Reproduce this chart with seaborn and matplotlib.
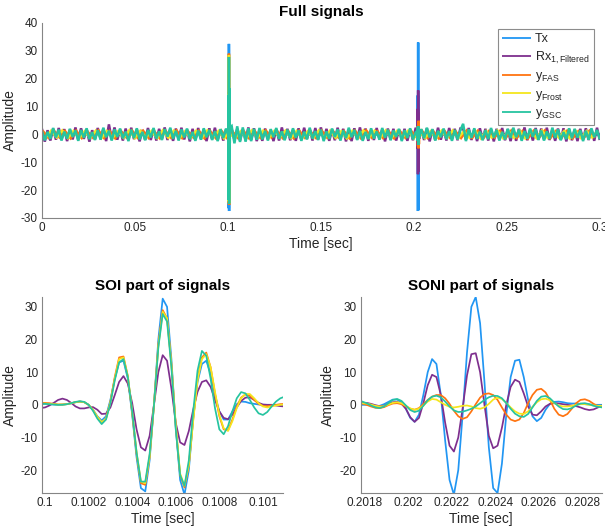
import numpy as np
import pandas as pd
import matplotlib
matplotlib.use("Agg")
import matplotlib.pyplot as plt
import seaborn as sns

# ---------------- data ----------------
series_names = ["Tx", "Rx", "FAS", "Frost", "GSC"]
legend_labels = ["Tx", r"Rx$_{\mathregular{1,Filtered}}$", r"y$_{\mathregular{FAS}}$",
                 r"y$_{\mathregular{Frost}}$", r"y$_{\mathregular{GSC}}$"]
colors = ["#2196F3", "#7E2F8E", "#FF7410", "#F4E61E", "#26C4A0"]

# SOI window samples (20 us step starting at 0.09998 s)
soi_t0, soi_dt, soi_n = 0.09998, 0.00002, 57
soi_tx = [0.3, 0.3, 0.2, 0.1, 0.0, 0.1, 0.2, 0.5, 0.8, 1.0, 0.8, 0.0, -1.5, -3.5, -4.8, -3.5, 1.5, 8.0, 13.0, 13.5,
          8.0, -3.0, -16.0, -25.5, -26.5, -17.0, 0.0, 20.0, 32.5, 30.0, 14.0, -7.0, -23.0, -27.5, -20.0, -4.0, 7.0, 12.5,
          13.5, 9.5, 3.0, -2.0, -4.5, -4.5, -2.0, 0.2, 1.0, 0.9, 0.5, 0.3, 0.1, 0.0, 0.0, 0.0, 0.0, 0.0, 0.0]
soi_rx = [-1.0, -0.8, -0.2, 0.6, 1.5, 1.9, 1.5, 0.6, -0.5, -1.1, -1.1, -0.8, -0.7, -1.5, -2.8, -2.7, -0.8, 3.0, 7.0,
          8.8, 6.5, 0.5, -7.5, -13.0, -14.0, -9.5, 0.0, 10.0, 15.2, 13.5, 5.0, -5.5, -11.5, -12.3, -8.0, -1.5, 4.0, 7.0,
          7.5, 5.5, 1.5, -2.0, -4.0, -4.4, -3.0, -0.8, 1.2, 2.2, 2.3, 1.5, 0.6, 0.1, 0.0, 0.0, -0.2, -0.4, -0.5]
soi_fas = [0.6, 0.6, 0.5, 0.3, 0.1, 0.1, 0.2, 0.5, 0.8, 1.0, 0.8, 0.0, -1.6, -3.8, -5.5, -4.2, 1.0, 8.5, 14.5, 14.8,
           8.8, -2.5, -15.0, -24.0, -24.5, -16.0, 0.0, 18.5, 29.0, 26.5, 12.5, -6.5, -21.5, -25.3, -18.5, -4.5, 8.0,
           14.5, 16.0, 11.5, 3.5, -3.5, -7.5, -7.8, -4.5, -0.5, 2.2, 3.2, 2.8, 1.5, 0.3, -0.3, -0.4, -0.2, 0.0, 0.2, 0.3]
soi_frost = [0.4, 0.4, 0.3, 0.2, 0.1, 0.1, 0.2, 0.5, 0.8, 1.0, 0.8, 0.0, -1.5, -3.6, -5.3, -4.2, 0.8, 8.0, 14.0, 14.5,
             8.8, -2.0, -14.5, -23.5, -24.0, -16.0, 0.0, 18.0, 28.5, 26.5, 12.5, -6.0, -21.0, -24.8, -18.5, -5.0, 7.5,
             14.0, 15.5, 11.5, 4.0, -3.0, -7.2, -8.0, -5.0, -1.0, 2.0, 3.3, 3.3, 2.0, 0.5, -0.5, -0.8, -0.5, -0.2, 0.0,
             0.1]
soi_gsc = [0.3, 0.3, 0.2, 0.1, 0.0, 0.0, 0.2, 0.5, 0.9, 1.1, 0.9, 0.0, -1.8, -4.2, -5.9, -4.5, 0.5, 7.5, 13.0, 14.0,
           8.5, -2.0, -14.5, -23.5, -23.5, -15.0, 0.0, 17.5, 27.8, 25.5, 11.5, -7.5, -21.5, -24.8, -17.0, -2.0, 10.5,
           16.5, 15.0, 8.0, -1.0, -7.5, -9.0, -6.5, -2.0, 2.0, 3.9, 3.5, 1.5, -0.8, -2.6, -3.1, -2.2, -0.5, 1.0, 2.0, 2.5]

# SONI window samples (20 us step starting at 0.20177 s)
soni_t0, soni_dt, soni_n = 0.20177, 0.00002, 57
soni_tx = [0.0, 0.0, 0.0, -0.2, -0.4, -0.3, 0.2, 0.9, 1.6, 1.6, 0.8, -1.2, -4.0, -5.2, -3.0, 3.0, 10.0, 14.0, 12.5,
           3.0, -11.0, -23.0, -27.5, -20.0, -3.0, 16.0, 30.0, 33.0, 25.0, 7.0, -13.0, -25.5, -27.0, -18.0, -3.0, 8.5,
           13.5, 13.8, 8.5, 1.5, -3.5, -5.0, -4.0, -1.5, 0.3, 0.9, 1.0, 0.8, 0.5, 0.4, 0.4, 0.3, 0.2, 0.1, 0.0, 0.0, 0.0]
soni_rx = [0.5, 0.6, 0.6, 0.3, -0.1, -0.4, -0.3, 0.3, 0.8, 0.9, 0.3, -1.2, -3.8, -5.2, -4.0, 0.5, 6.0, 9.2, 8.5, 3.0,
           -5.5, -12.5, -14.3, -10.0, -1.0, 9.0, 15.5, 15.8, 10.0, 0.0, -9.5, -13.3, -12.5, -7.0, 0.0, 5.5, 7.7, 7.0,
           3.5, -0.5, -3.0, -3.2, -2.0, -0.5, 0.3, 0.5, 0.4, 0.2, 0.0, -0.2, -0.4, -0.8, -1.3, -1.6, -1.4, -0.8, -0.2]
soni_fas = [0.6, 0.4, 0.0, -0.5, -0.9, -1.0, -0.7, -0.1, 0.4, 0.5, 0.2, -0.5, -1.2, -1.5, -1.0, 0.2, 1.5, 2.5, 3.0,
            3.0, 2.0, 0.3, -1.8, -3.5, -4.3, -3.8, -2.0, 0.2, 2.2, 3.3, 3.5, 3.0, 1.5, -0.8, -3.0, -4.5, -5.0, -4.5,
            -2.5, 0.5, 3.0, 4.6, 4.9, 3.8, 1.5, -1.2, -3.0, -3.5, -2.8, -1.2, 0.5, 1.5, 1.7, 1.2, 0.3, -0.4, -0.7]
soni_frost = [0.4, 0.5, 0.4, 0.1, -0.3, -0.5, -0.4, 0.1, 0.6, 0.8, 0.5, -0.3, -1.1, -1.5, -1.2, -0.2, 1.0, 1.8, 1.6,
              0.8, 0.0, -0.6, -0.8, -0.6, -0.3, -0.2, -0.5, -1.0, -1.2, -0.8, 0.3, 1.6, 2.2, 1.8, 0.6, -0.8, -2.0,
              -2.7, -2.8, -2.0, -0.6, 0.8, 1.7, 1.9, 1.4, 0.5, -0.2, -0.5, -0.5, -0.3, 0.0, 0.2, 0.2, 0.0, -0.2, -0.3,
              -0.3]
soni_gsc = [1.2, 1.0, 0.5, -0.2, -0.8, -1.0, -0.5, 0.5, 1.5, 1.8, 1.2, -0.2, -1.6, -2.2, -1.8, -0.3, 1.4, 2.5, 2.8,
            2.3, 1.0, -0.5, -1.7, -2.2, -2.1, -1.7, -1.2, -0.5, 0.5, 1.5, 2.3, 2.8, 2.7, 2.0, 0.5, -1.2, -2.7, -3.5,
            -3.7, -2.8, -0.8, 1.2, 2.5, 2.7, 2.0, 0.7, -0.5, -1.3, -1.4, -1.0, -0.2, 0.4, 0.5, 0.2, -0.3, -0.6, -0.8]

# background noise outside the two bursts (full-signal view)
tx_noise_t = [0.0, 0.3]
tx_noise = [0.0, 0.0]
gsc_noise_dt = 0.0015
gsc_noise = [1.2, -2.1, 0.9, -1.6, 2.3, -1.1, 1.7, -2.2, 1.0, -1.5,
             2.0, -0.9, 1.4, -2.3, 1.6, -1.2, 2.2, -1.7, 0.8, -2.0,
             1.5, -1.9, 2.4, -1.0, 1.3, -2.2, 1.8, -0.9, 2.1, -1.4,
             1.0, -2.4, 1.7, -1.3, 2.2, -1.8, 0.9, -2.1, 1.6, -1.1,
             2.3, -1.5, 1.1, -2.0, 1.9, -0.8, 2.4, -1.6, 1.3, -2.2,
             1.8, -1.1, 2.1, -1.7, 0.9, -2.3, 1.4, -1.9, 2.2, -1.0,
             1.6, -2.0, 1.2, -2.4, 1.9, -1.3, 2.1, -1.6, 3.0, -3.2,
             2.9, -2.7, 2.5, -2.6, 2.2, -2.4, 2.0, -1.9, 2.3, -1.8,
             1.3, -2.2, 1.9, -1.0, 2.3, -1.6, 1.1, -2.1, 1.7, -1.4,
             2.2, -1.2, 1.5, -2.3, 1.0, -1.8, 2.4, -1.5, 1.2, -2.0,
             1.7, -2.4, 1.1, -1.6, 2.1, -0.9, 1.8, -2.2, 1.4, -1.3,
             2.4, -1.0, 1.6, -2.0, 1.3, -2.3, 0.9, -1.7, 2.2, -1.5,
             1.1, -1.9, 2.3, -1.2, 1.7, -2.1, 1.4, -0.9, 2.0, -2.4,
             1.5, -1.3, 2.2, -1.8, 0.8, -2.0, 1.9, -1.4, 2.4, -1.1,
             1.9, -2.2, 1.3, -1.0, 2.1, -1.7, 1.2, -2.3, 1.6, -1.8,
             1.4, 3.8, -2.4, 1.8, -1.2, 2.2, -1.6, 1.0, -2.1, 1.5,
             -1.7, 2.3, -1.1, 1.6, -2.2, 0.9, -1.8, 2.0, -1.3, 2.4,
             -1.0, 1.7, -2.3, 1.2, -1.5, 2.1, -0.9, 1.9, -2.0, 1.4,
             -2.2, 1.1, -1.6, 2.4, -1.3, 1.8, -2.1, 0.8, -1.7, 2.2,
             -1.4, 2.0, -1.2, 1.5, -2.4, 1.3, -1.9, 2.2, -1.0, 1.6, -1.8]
rx_noise_t0, rx_noise_dt = 0.0, 0.0015
rx_noise = [2.0, -2.6, 1.5, -2.2, 2.0, -1.9, 2.3, -1.8, 1.9, -2.4,
            1.7, -1.8, 2.5, -2.0, 2.2, -1.6, 1.8, -2.6, 1.5, -1.7,
            2.3, -1.5, 2.0, -2.4, 3.6, -1.8, 2.5, -1.9, 1.6, -2.2,
            2.1, -1.9, 2.4, -1.7, 1.8, -2.5, 1.6, -1.9, 2.3, -2.0,
            1.8, -2.2, 2.0, -1.6, 2.5, -2.0, 1.9, -2.3, 2.1, -1.7,
            2.4, -1.8, 1.7, -2.5, 2.0, -1.9, 2.3, -1.6, 1.8, -2.4,
            2.2, -1.7, 2.4, -2.0, 1.6, -2.2, 1.8, -2.5, 2.0, -2.0,
            2.0, -2.2, 1.8, -2.0, 2.5, -1.9, 2.2, -2.4, 1.7, -2.3,
            2.1, -1.7, 1.6, -2.4, 1.9, -2.2, 2.5, -1.8, 2.0, -2.1,
            1.6, -2.3, 2.2, -1.9, 2.4, -1.6, 1.9, -2.2, 2.3, -1.8,
            2.5, -1.8, 2.0, -2.3, 1.7, -2.1, 2.4, -1.6, 2.0, -2.5,
            1.8, -2.4, 2.2, -1.7, 2.5, -1.9, 2.1, -2.3, 1.6, -2.0,
            2.3, -1.6, 1.8, -2.5, 2.1, -1.8, 2.0, -2.2, 1.7, -1.9,
            2.0, -2.3, 1.7, -2.1, 2.4, -1.8, 1.6, -2.0, 2.2, -2.5,
            1.7, -2.0, 2.4, -1.9, 1.8, -2.2, 2.3, -1.7, 2.0, -2.1,
            2.1, 2.0, -1.9, 2.3, -2.0, 1.8, -2.4, 2.2, -1.7, 2.0,
            -2.2, 1.8, -2.5, 2.0, -1.7, 2.3, -2.1, 1.9, -2.4, 1.7,
            -2.3, 2.0, -1.8, 2.5, -2.1, 1.6, -2.2, 2.3, -1.9, 2.1,
            -1.8, 2.4, -2.0, 1.7, -2.3, 2.1, -1.9, 2.2, -2.5, 1.8,
            -2.1, 1.7, -2.4, 2.0, -1.8, 2.2, -2.0, 1.6, -2.3, 2.4, -2.0]
fas_noise_t0, fas_noise_dt = 0.0004, 0.003
fas_noise = [1.3, -1.2, 1.4, -1.1, 1.2, -1.4, 1.3, -1.3, 1.1, -1.2,
             1.4, -1.3, 1.2, -1.4, 1.3, -1.1, 1.4, -1.2, 1.3, -1.3,
             1.1, -1.4, 1.3, -1.2, 1.4, -1.3, 1.2, -1.1, 1.3, -1.4,
             1.2, -1.3, 1.4, -1.2, 1.1, -1.3, 1.3, -1.4, 1.2, -1.2,
             1.4, -1.1, 1.3, -1.3, 1.2, -1.4, 1.3, -1.2, 1.1, -1.3,
             1.4, -1.2, 1.3, -1.1, 1.2, -1.4, 1.3, -1.3, 1.4, -1.2,
             1.1, -1.3, 1.2, -1.4, 1.3, -1.2, 1.4, -1.1, 1.3, -1.3,
             1.2, -1.4, 1.3, -1.2, 1.1, -1.3, 1.4, -1.2, 1.3, -1.4,
             1.2, -1.1, 1.3, -1.3, 1.4, -1.2, 1.2, -1.4, 1.3, -1.1,
             1.4, -1.3, 1.2, -1.2, 1.3, -1.4, 1.1, -1.3, 1.3, -1.2]
frost_noise_t0, frost_noise_dt = 0.0019, 0.003
frost_noise = [-1.2, 1.3, -1.1, 1.4, -1.3, 1.2, -1.4, 1.1, -1.2, 1.3,
               -1.4, 1.2, -1.3, 1.1, -1.2, 1.4, -1.3, 1.3, -1.1, 1.2,
               -1.3, 1.4, -1.2, 1.3, -1.4, 1.1, -1.2, 1.3, -1.3, 1.4,
               -1.1, 1.2, -1.4, 1.3, -1.2, 1.1, -1.3, 1.4, -1.2, 1.3,
               -1.4, 1.2, -1.1, 1.3, -1.3, 1.2, -1.4, 1.1, -1.2, 1.4,
               -1.3, 1.3, -1.2, 1.1, -1.4, 1.2, -1.3, 1.4, -1.1, 1.3,
               -1.2, 1.4, -1.3, 1.2, -1.1, 1.3, -1.4, 1.2, -1.3, 1.1,
               -1.4, 1.3, -1.2, 1.4, -1.3, 1.1, -1.2, 1.3, -1.4, 1.2,
               -1.1, 1.4, -1.3, 1.2, -1.2, 1.3, -1.4, 1.1, -1.3, 1.4,
               -1.2, 1.3, -1.1, 1.2, -1.4, 1.3, -1.3, 1.2, -1.1, 1.4]

top_xticks = [0, 0.05, 0.1, 0.15, 0.2, 0.25, 0.3]
top_xticklabels = ["0", "0.05", "0.1", "0.15", "0.2", "0.25", "0.3"]
top_yticks = [-30, -20, -10, 0, 10, 20, 30, 40]
soi_xticks = [0.1, 0.1002, 0.1004, 0.1006, 0.1008, 0.101]
soi_xticklabels = ["0.1", "0.1002", "0.1004", "0.1006", "0.1008", "0.101"]
soni_xticks = [0.2018, 0.202, 0.2022, 0.2024, 0.2026, 0.2028]
soni_xticklabels = ["0.2018", "0.202", "0.2022", "0.2024", "0.2026", "0.2028"]
zoom_yticks = [-20, -10, 0, 10, 20, 30]

# ---------------- assemble tables ----------------
soi_t = soi_t0 + soi_dt * np.arange(soi_n)
soni_t = soni_t0 + soni_dt * np.arange(soni_n)
soi_vals = dict(Tx=soi_tx, Rx=soi_rx, FAS=soi_fas, Frost=soi_frost, GSC=soi_gsc)
soni_vals = dict(Tx=soni_tx, Rx=soni_rx, FAS=soni_fas, Frost=soni_frost, GSC=soni_gsc)
noise_tables = dict(
    Tx=(np.array(tx_noise_t), np.array(tx_noise)),
    Rx=(rx_noise_t0 + rx_noise_dt * np.arange(len(rx_noise)), np.array(rx_noise)),
    FAS=(fas_noise_t0 + fas_noise_dt * np.arange(len(fas_noise)), np.array(fas_noise)),
    Frost=(frost_noise_t0 + frost_noise_dt * np.arange(len(frost_noise)), np.array(frost_noise)),
    GSC=(gsc_noise_dt * np.arange(len(gsc_noise)), np.array(gsc_noise)),
)


def full_table(name):
    nt, nv = noise_tables[name]
    noise = pd.DataFrame({"t": nt, "v": nv})
    outside = ~(noise.t.between(soi_t[0], soi_t[-1]) | noise.t.between(soni_t[0], soni_t[-1]))
    parts = [noise[outside],
             pd.DataFrame({"t": soi_t, "v": soi_vals[name]}),
             pd.DataFrame({"t": soni_t, "v": soni_vals[name]})]
    return pd.concat(parts).sort_values("t").reset_index(drop=True)


# ---------------- style ----------------
sns.set_theme(style="white")
plt.rcParams["font.family"] = ["Liberation Sans", "DejaVu Sans"]
plt.rcParams["axes.unicode_minus"] = False
plt.rcParams["mathtext.fontset"] = "custom"
plt.rcParams["mathtext.rm"] = "Liberation Sans"
plt.rcParams["mathtext.it"] = "Liberation Sans:italic"
plt.rcParams["mathtext.bf"] = "Liberation Sans:bold"

spine_col = "#858585"
text_col = "#262626"

fig = plt.figure(figsize=(6.05, 5.26), dpi=100)
ax_top = fig.add_axes([0.0694, 0.5856, 0.922, 0.3707])
ax_soi = fig.add_axes([0.0694, 0.0627, 0.3983, 0.3726])
ax_soni = fig.add_axes([0.5962, 0.0627, 0.3983, 0.3726])

lw = 1.25
for name, lab, col in zip(series_names, legend_labels, colors):
    df = full_table(name)
    sns.lineplot(data=df, x="t", y="v", ax=ax_top, color=col, lw=1.8, label=lab,
                 estimator=None, sort=False, solid_joinstyle="miter", solid_capstyle="butt")
    sns.lineplot(x=soi_t, y=soi_vals[name], ax=ax_soi, color=col, lw=lw, estimator=None, legend=False)
    sns.lineplot(x=soni_t, y=soni_vals[name], ax=ax_soni, color=col, lw=lw, estimator=None, legend=False)


def style(ax, title, xticks, xlabels, yticks, xlim, ylim):
    ax.set_xlim(*xlim)
    ax.set_ylim(*ylim)
    ax.set_xticks(xticks)
    ax.set_xticklabels(xlabels)
    ax.set_yticks(yticks)
    ax.set_title(title, fontsize=11, fontweight="bold", color="black", pad=5)
    ax.set_xlabel("Time [sec]", fontsize=10, color=text_col, labelpad=2)
    ax.set_ylabel("Amplitude", fontsize=10, color=text_col, labelpad=3)
    ax.tick_params(direction="in", length=3, width=0.6, colors=spine_col, labelcolor=text_col,
                   labelsize=8.5, pad=3)
    for s in ["top", "right"]:
        ax.spines[s].set_visible(False)
    for s in ["left", "bottom"]:
        ax.spines[s].set_color(spine_col)
        ax.spines[s].set_linewidth(0.8)
    ax.grid(False)


style(ax_top, "Full signals", top_xticks, top_xticklabels, top_yticks, (0, 0.3), (-30, 40))
style(ax_soi, "SOI part of signals", soi_xticks, soi_xticklabels, zoom_yticks, (0.099986, 0.101092), (-27, 33))
style(ax_soni, "SONI part of signals", soni_xticks, soni_xticklabels, zoom_yticks, (0.201783, 0.202887), (-27, 33))

leg = ax_top.legend(loc="upper right", bbox_to_anchor=(594 / 605, 1 - 29 / 526),
                    bbox_transform=fig.transFigure, borderaxespad=0, frameon=True, fancybox=False,
                    fontsize=9, handlelength=2.3, handletextpad=0.3, labelspacing=0.35,
                    borderpad=0.35, framealpha=1)
leg.get_frame().set_edgecolor("#8c8c8c")
leg.get_frame().set_linewidth(0.8)
for h in leg.get_lines():
    h.set_linewidth(1.3)

fig.savefig("out.png", dpi=100, facecolor="white")
